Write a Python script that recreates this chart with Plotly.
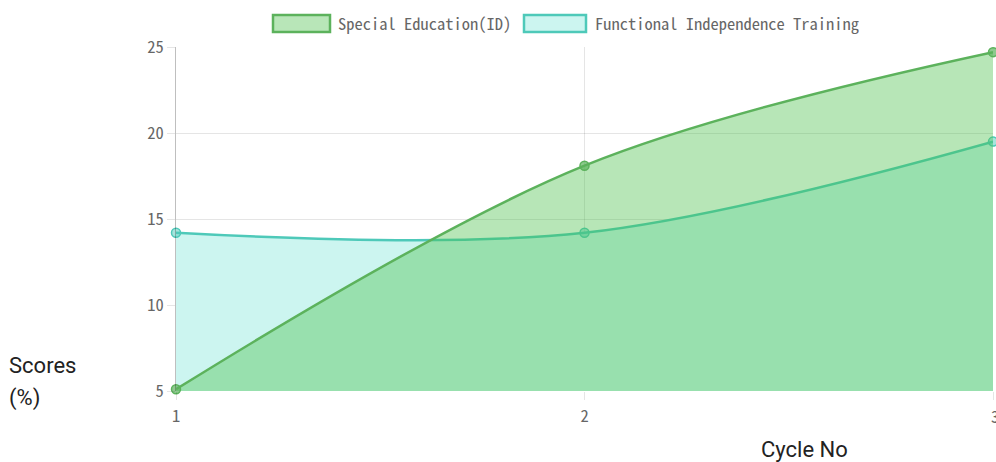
import plotly.graph_objects as go

cycles = [1, 2, 3]
special_ed = [5.1, 18.1, 24.7]
fit_scores = [14.2, 14.2, 19.5]
series_names = ["Special Education(ID)", "Functional Independence Training"]

GREEN_LINE = "rgb(92,178,92)"
GREEN_FILL = "rgba(75,192,75,0.4)"
CYAN_LINE = "rgb(78,201,185)"
CYAN_FILL = "rgba(204,245,240,1)"

W, H = 996, 462
L, R, T, B = 176, 3, 47, 71
pw, ph = W - L - R, H - T - B

def px(x):
    return (x - L) / pw

def py(y):
    return (H - B - y) / ph

fig = go.Figure()
fig.add_trace(go.Scatter(
    x=cycles, y=fit_scores, name=series_names[1], mode="lines+markers",
    line=dict(color=CYAN_LINE, width=2.5, shape="spline", smoothing=1.0),
    marker=dict(size=9, color="rgba(78,201,185,0.5)", line=dict(color=CYAN_LINE, width=1.5)),
    fill="tozeroy", fillcolor=CYAN_FILL, showlegend=False, cliponaxis=False))
fig.add_trace(go.Scatter(
    x=cycles, y=special_ed, name=series_names[0], mode="lines+markers",
    line=dict(color=GREEN_LINE, width=2.5, shape="spline", smoothing=1.0),
    marker=dict(size=9, color="rgba(92,178,92,0.7)", line=dict(color=GREEN_LINE, width=1.5)),
    fill="tozeroy", fillcolor=GREEN_FILL, showlegend=False, cliponaxis=False))

mono = "Noto Sans Mono CJK SC, DejaVu Sans Mono, monospace"
tick_font = dict(family=mono, size=16.5, color="#666")
shapes = [
    dict(type="rect", xref="paper", yref="paper", x0=px(273), x1=px(330), y0=py(32), y1=py(15),
         fillcolor="rgb(184,230,184)", line=dict(color=GREEN_LINE, width=2.5)),
    dict(type="rect", xref="paper", yref="paper", x0=px(524), x1=px(586), y0=py(32), y1=py(15),
         fillcolor=CYAN_FILL, line=dict(color=CYAN_LINE, width=2.5)),
]
annotations = [
    dict(text=series_names[0], xref="paper", yref="paper", x=px(336), y=py(23.5),
         xanchor="left", yanchor="middle", showarrow=False, font=tick_font),
    dict(text=series_names[1], xref="paper", yref="paper", x=px(593), y=py(23.5),
         xanchor="left", yanchor="middle", showarrow=False, font=tick_font),
    dict(text="Scores", xref="paper", yref="paper", x=px(7), y=py(365),
         xanchor="left", yanchor="middle", showarrow=False, font=dict(family="Roboto", size=22, color="#222")),
    dict(text="(%)", xref="paper", yref="paper", x=px(7), y=py(398),
         xanchor="left", yanchor="middle", showarrow=False, font=dict(family="Roboto", size=22, color="#222")),
    dict(text="Cycle No", xref="paper", yref="paper", x=px(759), y=py(449),
         xanchor="left", yanchor="middle", showarrow=False, font=dict(family="Roboto", size=22, color="#222")),
    # last x tick label, partially off the page as in the reference
    dict(text=str(cycles[-1]), xref="x", yref="paper", x=cycles[-1], xshift=2, y=py(416),
         xanchor="center", yanchor="middle", showarrow=False, font=tick_font),
]

fig.update_layout(
    width=W, height=H, margin=dict(l=L, r=R, t=T, b=B),
    paper_bgcolor="white", plot_bgcolor="white",
    shapes=shapes, annotations=annotations, showlegend=False,
    xaxis=dict(range=[1, 3], tickvals=cycles, ticktext=[str(c) for c in cycles[:-1]] + [""],
               showgrid=True, gridcolor="rgba(0,0,0,0.1)", zeroline=False,
               showline=False, ticks="outside", ticklen=8, tickcolor="rgba(0,0,0,0.1)",
               ticklabelstandoff=2, tickfont=tick_font, fixedrange=True),
    yaxis=dict(range=[5, 25], tickvals=[5, 10, 15, 20, 25],
               showgrid=True, gridcolor="rgba(0,0,0,0.1)", zeroline=False,
               showline=True, linecolor="rgba(0,0,0,0.25)", linewidth=1,
               ticks="outside", ticklen=8, tickcolor="rgba(0,0,0,0.1)",
               tickfont=tick_font, fixedrange=True),
)

fig.write_html("out.html", config={"displayModeBar": False},
               post_script="document.body.style.margin='0';document.body.style.overflow='hidden';")
